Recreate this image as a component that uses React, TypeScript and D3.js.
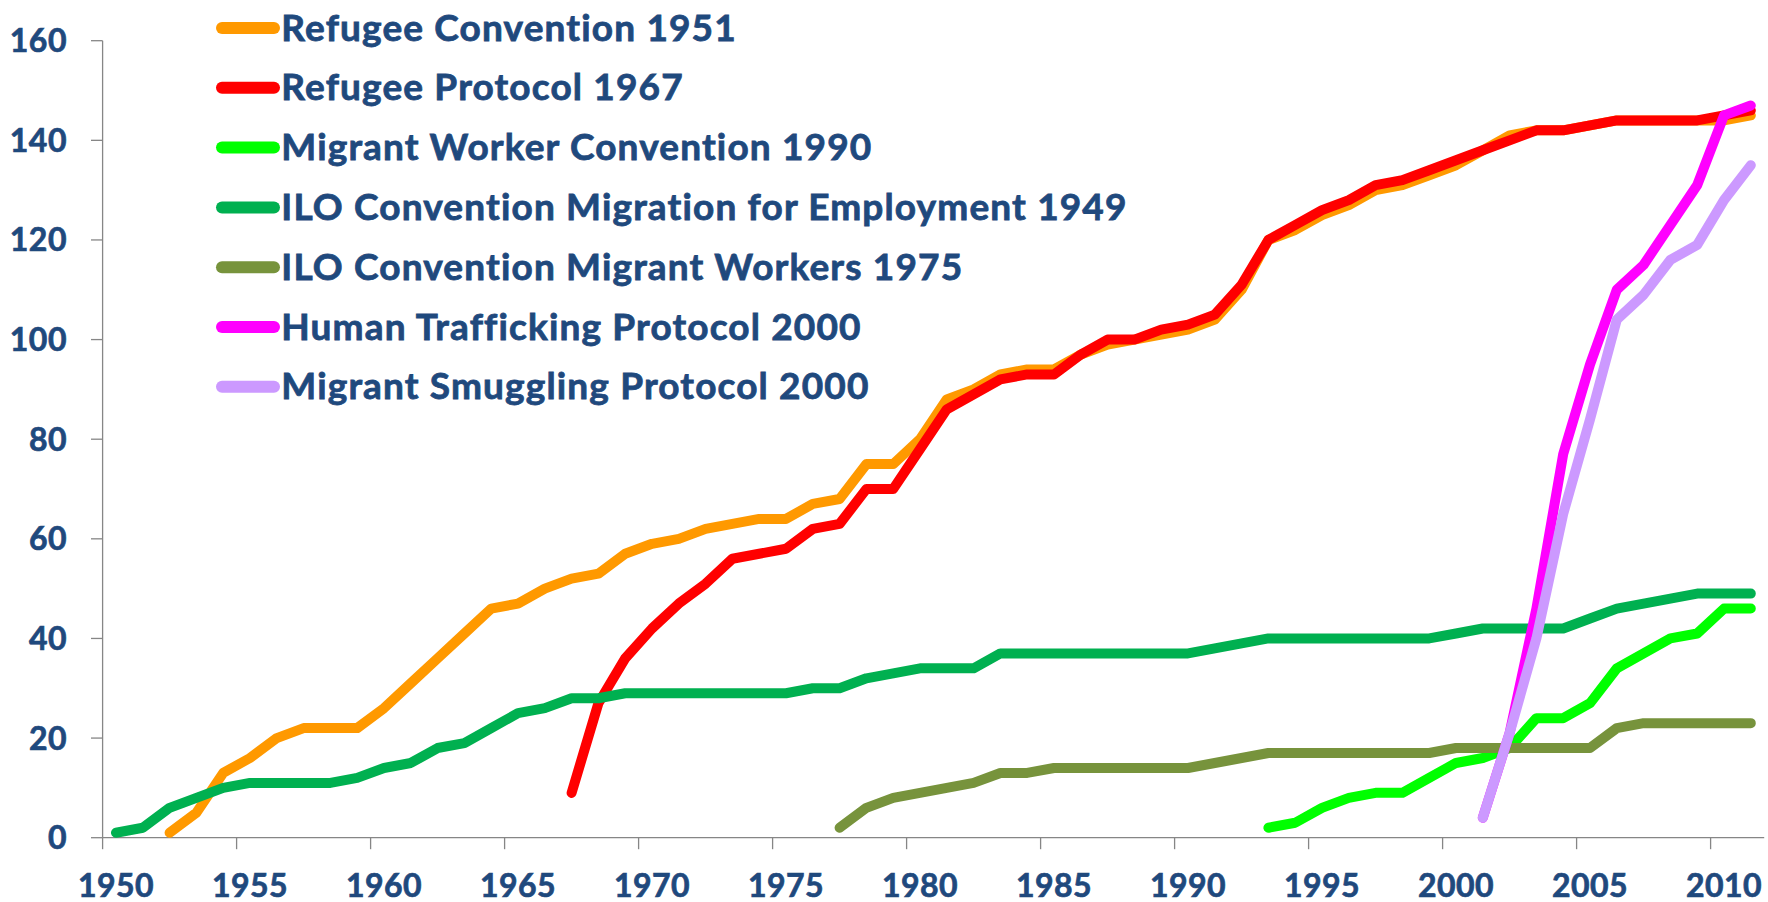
import React from "react";
import * as d3 from "d3";

const years: number[] = d3.range(1950, 2012);

const refugeeConvention1951Start = 1952;
const refugeeConvention1951 = [1, 5, 13, 16, 20, 22, 22, 22, 26, 31, 36, 41, 46, 47, 50, 52, 53, 57, 59, 60, 62, 63, 64, 64, 67, 68, 75, 75, 80, 88, 90, 93, 94, 94, 97, 99, 100, 101, 102, 104, 110, 120, 122, 125, 127, 130, 131, 133, 135, 138, 141, 142, 142, 143, 144, 144, 144, 144, 144, 145];

const refugeeProtocol1967Start = 1967;
const refugeeProtocol1967 = [9, 27, 36, 42, 47, 51, 56, 57, 58, 62, 63, 70, 70, 78, 86, 89, 92, 93, 93, 97, 100, 100, 102, 103, 105, 111, 120, 123, 126, 128, 131, 132, 134, 136, 138, 140, 142, 142, 143, 144, 144, 144, 144, 145, 146];

const migrantWorker1990Start = 1993;
const migrantWorker1990 = [2, 3, 6, 8, 9, 9, 12, 15, 16, 18, 24, 24, 27, 34, 37, 40, 41, 46, 46];

const iloMigration1949Start = 1950;
const iloMigration1949 = [1, 2, 6, 8, 10, 11, 11, 11, 11, 12, 14, 15, 18, 19, 22, 25, 26, 28, 28, 29, 29, 29, 29, 29, 29, 29, 30, 30, 32, 33, 34, 34, 34, 37, 37, 37, 37, 37, 37, 37, 37, 38, 39, 40, 40, 40, 40, 40, 40, 40, 41, 42, 42, 42, 42, 44, 46, 47, 48, 49, 49, 49];

const iloMigrant1975Start = 1977;
const iloMigrant1975 = [2, 6, 8, 9, 10, 11, 13, 13, 14, 14, 14, 14, 14, 14, 15, 16, 17, 17, 17, 17, 17, 17, 17, 18, 18, 18, 18, 18, 18, 22, 23, 23, 23, 23, 23];

const trafficking2000Start = 2001;
const trafficking2000 = [4, 21, 46, 77, 95, 110, 115, 123, 131, 145, 147];

const smuggling2000Start = 2001;
const smuggling2000 = [4, 21, 40, 65, 84, 104, 109, 116, 119, 128, 135];

const seriesNames = [
  "Refugee Convention 1951",
  "Refugee Protocol 1967",
  "Migrant Worker Convention 1990",
  "ILO Convention Migration for Employment 1949",
  "ILO Convention Migrant Workers 1975",
  "Human Trafficking Protocol 2000",
  "Migrant Smuggling Protocol 2000",
];
const seriesColors = ["#FF9900", "#FF0000", "#00FF00", "#00B050", "#77933C", "#FF00FF", "#CC99FF"];
const seriesStarts = [
  refugeeConvention1951Start,
  refugeeProtocol1967Start,
  migrantWorker1990Start,
  iloMigration1949Start,
  iloMigrant1975Start,
  trafficking2000Start,
  smuggling2000Start,
];
const seriesValues = [
  refugeeConvention1951,
  refugeeProtocol1967,
  migrantWorker1990,
  iloMigration1949,
  iloMigrant1975,
  trafficking2000,
  smuggling2000,
];

const yTicks = [0, 20, 40, 60, 80, 100, 120, 140, 160];
const xLabelYears = [1950, 1955, 1960, 1965, 1970, 1975, 1980, 1985, 1990, 1995, 2000, 2005, 2010];

const W = 1768;
const H = 902;
const TEXT = "#1F497D";
const AXIS = "#868686";
const FONT = "Lato, 'Open Sans', sans-serif";

export default function App() {
  const x = d3.scaleBand<number>().domain(years).range([102.6, 1764.2]).padding(0);
  const y = d3.scaleLinear().domain([0, 160]).range([837.7, 40.7]);
  const cx = (yr: number) => (x(yr) as number) + x.bandwidth() / 2;

  const line = d3
    .line<{ yr: number; v: number }>()
    .x((d) => cx(d.yr))
    .y((d) => y(d.v));

  const legendY0 = 28;
  const legendStep = 59.8;

  return (
    <svg
      width={W}
      height={H}
      style={{ position: "absolute", left: 0, top: 0, background: "#fff" }}
      fontFamily={FONT}
    >
      {/* y axis */}
      <line x1={102.6} x2={102.6} y1={y(160)} y2={y(0)} stroke={AXIS} strokeWidth={1.3} />
      {yTicks.map((t) => (
        <g key={"yt" + t}>
          <line x1={91} x2={102.6} y1={y(t)} y2={y(t)} stroke={AXIS} strokeWidth={1.3} />
          <text
            x={67}
            y={y(t) + 11.5}
            textAnchor="end"
            fontSize={32}
            fontWeight="bold"
            fill={TEXT}
            stroke={TEXT}
            strokeWidth={0.7}
            letterSpacing={0.5}
          >
            {t}
          </text>
        </g>
      ))}
      {/* x axis */}
      <line x1={102.6} x2={1764.2} y1={y(0)} y2={y(0)} stroke={AXIS} strokeWidth={1.3} />
      {xLabelYears.map((yr) => (
        <g key={"xt" + yr}>
          <line
            x1={x(yr) as number}
            x2={x(yr) as number}
            y1={y(0)}
            y2={y(0) + 11.5}
            stroke={AXIS}
            strokeWidth={1.3}
          />
          <text
            x={cx(yr)}
            y={896.5}
            textAnchor="middle"
            fontSize={32}
            fontWeight="bold"
            fill={TEXT}
            stroke={TEXT}
            strokeWidth={0.7}
            letterSpacing={0.5}
          >
            {yr}
          </text>
        </g>
      ))}
      {/* series */}
      {seriesValues.map((vals, i) => {
        const pts = vals.map((v, k) => ({ yr: seriesStarts[i] + k, v }));
        return (
          <path
            key={"s" + i}
            d={line(pts) || ""}
            fill="none"
            stroke={seriesColors[i]}
            strokeWidth={10}
            strokeLinejoin="round"
            strokeLinecap="round"
          />
        );
      })}
      {/* legend */}
      {seriesNames.map((name, i) => {
        const ly = legendY0 + i * legendStep;
        return (
          <g key={"lg" + i}>
            <line
              x1={222}
              x2={274}
              y1={ly}
              y2={ly}
              stroke={seriesColors[i]}
              strokeWidth={12}
              strokeLinecap="round"
            />
            <text
              x={281.3}
              y={ly + 12.5}
              fontSize={37}
              fontWeight="bold"
              fill={TEXT}
              stroke={TEXT}
              strokeWidth={0.8}
              letterSpacing={1.15}
            >
              {name}
            </text>
          </g>
        );
      })}
    </svg>
  );
}
